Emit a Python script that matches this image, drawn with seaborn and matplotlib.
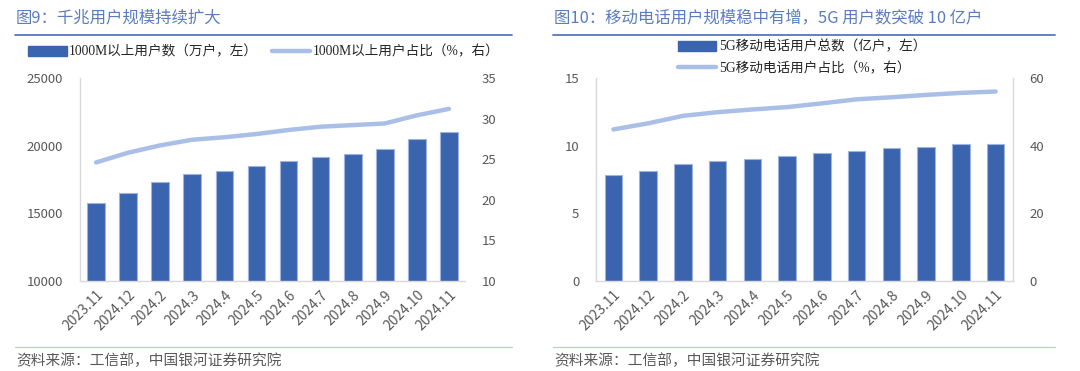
import numpy as np
import pandas as pd
import matplotlib
matplotlib.use("Agg")
import matplotlib.pyplot as plt
from matplotlib.patches import Patch
from matplotlib.lines import Line2D
import seaborn as sns

# ---------------- data ----------------
months = ['2023.11', '2024.12', '2024.2', '2024.3', '2024.4', '2024.5',
          '2024.6', '2024.7', '2024.8', '2024.9', '2024.10', '2024.11']
gig_users = [15780, 16470, 17290, 17880, 18100, 18480,
             18870, 19140, 19410, 19740, 20480, 21020]          # 万户
gig_share = [24.6, 25.8, 26.7, 27.4, 27.7, 28.1,
             28.6, 29.0, 29.2, 29.4, 30.4, 31.2]                 # %
g5_users = [7.81, 8.13, 8.62, 8.85, 9.04, 9.24,
            9.44, 9.64, 9.83, 9.93, 10.13, 10.13]                # 亿户
g5_share = [44.8, 46.6, 48.8, 49.9, 50.7, 51.4,
            52.5, 53.7, 54.3, 55.0, 55.6, 56.0]                  # %

title_left = '图9：千兆用户规模持续扩大'
title_right = '图10：移动电话用户规模稳中有增，5G 用户数突破 10 亿户'
leg_left = ['1000M以上用户数（万户，左）', '1000M以上用户占比（%，右）']
leg_right = ['5G移动电话用户总数（亿户，左）', '5G移动电话用户占比（%，右）']
source = '资料来源：工信部，中国银河证券研究院'

# ---------------- style ----------------
sns.set_theme(style='white')
plt.rcParams['font.family'] = ['Noto Sans CJK SC', 'DejaVu Sans']

BAR = '#3a64ae'
BAR_EDGE = '#9db3e0'
LINE = '#a9bfe8'
TITLE = '#5a7cc0'
RULE = '#5577bb'
TICK = '#595959'
SPINE = '#d9d9d9'
LEGFONT = ['Liberation Serif', 'Noto Sans CJK SC']

W, H = 1080, 371
fig = plt.figure(figsize=(W / 100, H / 100), dpi=100)


def fx(px):
    return px / W


def fy(py):
    return 1 - py / H


def panel(x0, x1, users, share, ylim_l, yticks_l, ylim_r, yticks_r, width, right_spine):
    ax = fig.add_axes([fx(x0), fy(281), fx(x1 - x0), fy(78) - fy(281)])
    df = pd.DataFrame({'month': months, 'users': users, 'share': share})
    sns.barplot(data=df, x='month', y='users', ax=ax, color=BAR, width=width,
                saturation=1, edgecolor=BAR_EDGE, linewidth=0.8)
    ax.set_xlim(-0.5, len(months) - 0.5)
    ax.set_ylim(*ylim_l)
    ax.set_yticks(yticks_l)
    ax.set_xlabel('')
    ax.set_ylabel('')
    ax.tick_params(axis='both', length=0, colors=TICK, labelsize=9.5)
    ax.tick_params(axis='y', pad=12)
    ax.tick_params(axis='x', pad=5)
    for lab in ax.get_xticklabels():
        lab.set_rotation(45)
        lab.set_ha('right')
        lab.set_rotation_mode('anchor')
        lab.set_fontsize(10)
    ax2 = ax.twinx()
    sns.lineplot(x=np.arange(len(share)), y=share, ax=ax2, color=LINE,
                 linewidth=3.2, solid_capstyle='round')
    ax2.set_ylim(*ylim_r)
    ax2.set_yticks(yticks_r)
    ax2.set_ylabel('')
    ax2.tick_params(axis='y', length=0, colors=TICK, labelsize=9.5, pad=12)
    for a in (ax, ax2):
        for s in a.spines.values():
            s.set_color(SPINE)
            s.set_linewidth(1.0)
        a.spines['top'].set_visible(False)
    ax2.spines['right'].set_visible(right_spine)
    ax.spines['right'].set_visible(False)
    ax2.spines['left'].set_visible(False)
    ax2.spines['bottom'].set_visible(False)
    return ax, ax2


panel(80, 465, gig_users, gig_share, (10000, 25000), [10000, 15000, 20000, 25000],
      (10, 35), [10, 15, 20, 25, 30, 35], 0.55, False)
panel(596, 1013, g5_users, g5_share, (0, 15), [0, 5, 10, 15],
      (0, 60), [0, 20, 40, 60], 0.51, True)

# legends
def handles(labels):
    return [Patch(facecolor=BAR, edgecolor=BAR, label=labels[0]),
            Line2D([0], [0], color=LINE, linewidth=3.2, solid_capstyle='round', label=labels[1])]

fig.legend(handles=handles(leg_left), loc='center', bbox_to_anchor=(fx(264), fy(52)),
           ncol=2, frameon=False, prop={'family': LEGFONT, 'size': 9.8},
           handlelength=2.8, handleheight=0.8, handletextpad=0.2, columnspacing=1.0,
           borderpad=0, labelcolor='#262626')
fig.legend(handles=handles(leg_right), loc='center', bbox_to_anchor=(fx(802), fy(57.5)),
           ncol=1, frameon=False, prop={'family': LEGFONT, 'size': 9.8},
           handlelength=2.8, handleheight=0.8, handletextpad=0.2, labelspacing=0.6,
           borderpad=0, labelcolor='#262626')

# titles, rules, source
for x0, x1, t in [(15, 512, title_left), (553, 1055, title_right)]:
    fig.text(fx(x0 + 1), fy(18), t, color=TITLE, fontsize=11.8, va='center', ha='left')
    fig.add_artist(Line2D([fx(x0), fx(x1)], [fy(35), fy(35)], color=RULE, linewidth=1.3,
                          transform=fig.transFigure))
    fig.add_artist(Line2D([fx(x0), fx(x1)], [fy(347), fy(347)], color='#b5c6e6', linewidth=0.8,
                          transform=fig.transFigure))
    fig.text(fx(x0 + 1), fy(361), source, color=TICK, fontsize=10.6, va='center', ha='left')

fig.savefig('out.png', dpi=100, facecolor='white')
